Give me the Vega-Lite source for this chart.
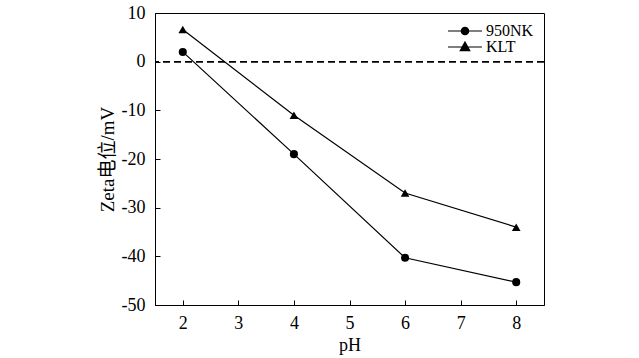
{
  "$schema": "https://vega.github.io/schema/vega-lite/v6.json",
  "width": 389,
  "height": 292,
  "autosize": {"type": "none"},
  "padding": {"left": 155, "top": 13, "right": 95, "bottom": 53},
  "background": "white",
  "config": {
    "view": {"stroke": "black", "strokeWidth": 1},
    "font": "Liberation Serif",
    "axis": {
      "domainColor": "black",
      "tickColor": "black",
      "labelColor": "black",
      "titleColor": "black",
      "labelFont": "Liberation Serif",
      "titleFont": "Liberation Serif, Noto Sans CJK SC",
      "labelFontSize": 18,
      "titleFontSize": 18,
      "titleFontWeight": "normal",
      "grid": false,
      "tickSize": -5,
      "domainWidth": 1,
      "tickWidth": 1
    }
  },
  "data": {
    "values": [
      {"pH": 2, "zeta": 2.0, "sample": "950NK"},
      {"pH": 4, "zeta": -19.0, "sample": "950NK"},
      {"pH": 6, "zeta": -40.3, "sample": "950NK"},
      {"pH": 8, "zeta": -45.3, "sample": "950NK"},
      {"pH": 2, "zeta": 6.6, "sample": "KLT"},
      {"pH": 4, "zeta": -11.0, "sample": "KLT"},
      {"pH": 6, "zeta": -27.0, "sample": "KLT"},
      {"pH": 8, "zeta": -34.0, "sample": "KLT"}
    ]
  },
  "encoding": {
    "x": {
      "field": "pH", "type": "quantitative",
      "scale": {"domain": [1.5, 8.5], "nice": false, "zero": false},
      "axis": {"values": [2, 3, 4, 5, 6, 7, 8], "title": "pH", "labelPadding": 14, "titlePadding": 4, "labelFlush": false}
    },
    "y": {
      "field": "zeta", "type": "quantitative",
      "scale": {"domain": [-50, 10], "nice": false},
      "axis": {"values": [-50, -40, -30, -20, -10, 0, 10], "title": "Zeta电位/mV", "titleFontSize": 19, "labelPadding": 15, "titlePadding": 4, "labelFlush": false, "labelExpr": "'' + datum.value"}
    }
  },
  "layer": [
    {
      "mark": {"type": "rule", "color": "black", "strokeWidth": 1, "strokeDash": [7, 4]},
      "encoding": {"y": {"datum": 0}, "x": null}
    },
    {
      "mark": {"type": "line", "color": "black", "strokeWidth": 1.2},
      "encoding": {"detail": {"field": "sample"}}
    },
    {
      "transform": [{"filter": "datum.sample === '950NK'"}],
      "mark": {"type": "point", "filled": true, "color": "black", "opacity": 1, "size": 65, "shape": "circle"}
    },
    {
      "transform": [{"filter": "datum.sample === 'KLT'"}],
      "mark": {"type": "point", "filled": true, "color": "black", "opacity": 1, "size": 75, "shape": "triangle-up"}
    },
    {
      "transform": [{"filter": "datum.pH > 100"}],
      "mark": {"type": "point", "filled": false, "color": "black", "strokeWidth": 1.2, "opacity": 1},
      "encoding": {
        "shape": {
          "field": "sample", "type": "nominal",
          "scale": {"domain": ["950NK", "KLT"], "range": [
            "M-3.4,0L3.4,0M-0.74,0A0.74,0.74,0,1,1,0.74,0A0.74,0.74,0,1,1,-0.74,0ZM-0.5,0A0.5,0.5,0,1,1,0.5,0A0.5,0.5,0,1,1,-0.5,0ZM-0.26,0A0.26,0.26,0,1,1,0.26,0A0.26,0.26,0,1,1,-0.26,0ZM-0.05,0A0.05,0.05,0,1,1,0.05,0A0.05,0.05,0,1,1,-0.05,0Z",
            "M-3.4,0L3.4,0M0,-1L0.95,0.75L-0.95,0.75ZM0,-0.557L0.589,0.528L-0.589,0.528ZM0,-0.113L0.228,0.307L-0.228,0.307Z"
          ]},
          "legend": {
            "title": null,
            "orient": "top-right",
            "offset": 10,
            "labelFont": "Liberation Serif",
            "labelFontSize": 16,
            "labelColor": "black",
            "symbolSize": 100,
            "labelOffset": 13,
            "rowPadding": -5,
            "padding": 0,
            "symbolStrokeWidth": 1.2,
            "symbolStrokeColor": "black",
            "symbolOpacity": 1
          }
        }
      }
    }
  ]
}
